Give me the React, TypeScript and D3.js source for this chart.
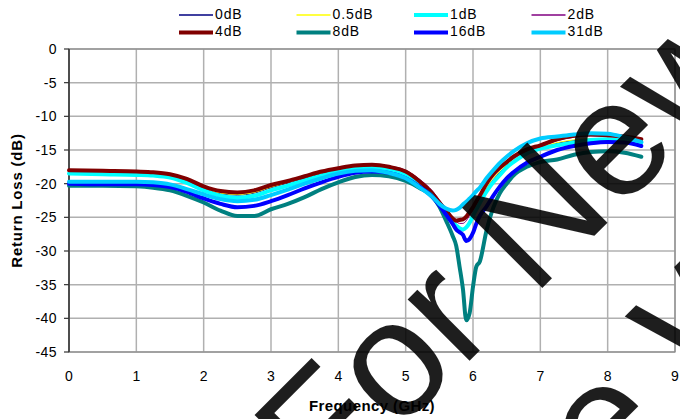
import React from "react";
import * as d3 from "d3";

// Frequency grid (GHz)
const FREQ = [0, 0.5, 1, 1.25, 1.5, 1.75, 2, 2.25, 2.5, 2.75, 3, 3.25, 3.5, 3.75, 4, 4.25, 4.5, 4.75, 5, 5.2, 5.4, 5.5, 5.6, 5.7, 5.75, 5.8, 5.85, 5.9, 5.95, 6.0, 6.05, 6.1, 6.2, 6.3, 6.4, 6.5, 6.6, 6.8, 7.0, 7.25, 7.5, 7.75, 8.0, 8.25, 8.5];

// Return loss (dB) per attenuation state
const RL_0DB = [-18.3, -18.4, -18.5, -18.6, -18.9, -19.6, -20.7, -21.5, -21.7, -21.4, -20.6, -19.9, -19.2, -18.5, -18.0, -17.6, -17.4, -17.7, -18.4, -19.8, -21.6, -22.9, -24.2, -25.6, -26.3, -26.8, -27.0, -26.6, -25.7, -24.7, -23.6, -22.7, -20.8, -19.4, -18.3, -17.3, -16.6, -15.4, -14.7, -14.0, -13.6, -13.4, -13.4, -13.5, -13.9];
const RL_05DB = [-18.2, -18.3, -18.4, -18.5, -18.8, -19.5, -20.6, -21.4, -21.6, -21.3, -20.5, -19.8, -19.1, -18.4, -17.9, -17.5, -17.3, -17.6, -18.3, -19.7, -21.5, -22.8, -24.1, -25.4, -26.1, -26.6, -26.8, -26.4, -25.5, -24.5, -23.4, -22.5, -20.6, -19.2, -18.1, -17.1, -16.4, -15.2, -14.6, -13.9, -13.5, -13.3, -13.3, -13.4, -13.8];
const RL_1DB = [-18.5, -18.6, -18.7, -18.8, -19.1, -19.9, -21.0, -21.8, -22.1, -21.8, -21.0, -20.3, -19.5, -18.8, -18.2, -17.8, -17.7, -18.0, -18.8, -20.2, -22.0, -23.2, -24.3, -25.6, -26.2, -26.6, -26.8, -26.5, -25.8, -24.8, -23.8, -22.9, -21.2, -19.8, -18.7, -17.6, -16.8, -15.5, -14.8, -14.3, -13.9, -13.5, -13.4, -13.5, -13.9];
const RL_2DB = [-18.1, -18.2, -18.3, -18.4, -18.7, -19.4, -20.5, -21.2, -21.4, -21.1, -20.3, -19.7, -19.0, -18.3, -17.8, -17.4, -17.2, -17.4, -18.0, -19.3, -21.1, -22.4, -23.7, -25.0, -25.6, -25.9, -25.9, -25.5, -24.7, -23.9, -23.0, -22.1, -20.3, -18.9, -17.9, -17.0, -16.3, -15.1, -14.5, -13.6, -13.1, -12.9, -13.0, -13.2, -13.6];
const RL_4DB = [-18.0, -18.1, -18.2, -18.3, -18.6, -19.3, -20.4, -21.1, -21.3, -21.0, -20.2, -19.6, -18.9, -18.2, -17.7, -17.3, -17.2, -17.5, -18.2, -19.6, -21.5, -22.8, -24.0, -25.2, -25.5, -25.4, -25.3, -24.9, -24.2, -23.5, -22.6, -21.8, -20.0, -18.6, -17.6, -16.8, -16.0, -14.9, -14.3, -13.4, -12.9, -12.7, -12.8, -13.0, -13.4];
const RL_8DB = [-20.3, -20.3, -20.4, -20.6, -21.0, -21.8, -22.8, -24.0, -24.8, -24.8, -23.8, -23.0, -22.0, -20.8, -19.8, -19.0, -18.7, -18.9, -19.6, -20.6, -21.9, -23.4, -25.5, -27.8, -29.2, -32.3, -35.6, -40.3, -39.2, -35.3, -32.3, -31.6, -27.0, -23.6, -21.4, -20.0, -18.8, -17.5, -16.8, -16.4, -15.7, -15.3, -15.2, -15.4, -16.0];
const RL_16DB = [-20.0, -20.1, -20.1, -20.2, -20.5, -21.2, -22.2, -23.0, -23.5, -23.3, -22.6, -21.7, -20.7, -19.8, -19.0, -18.4, -18.2, -18.4, -19.2, -20.4, -22.0, -23.2, -24.6, -26.0, -26.8, -27.2, -27.6, -28.5, -28.2, -27.3, -25.9, -24.8, -23.4, -21.8, -20.4, -19.2, -18.3, -16.9, -16.0, -15.0, -14.4, -14.0, -13.8, -13.9, -14.4];
const RL_31DB = [-19.7, -19.7, -19.7, -19.8, -20.1, -20.8, -21.6, -22.3, -22.6, -22.4, -21.7, -20.9, -20.0, -19.2, -18.5, -18.1, -18.0, -18.4, -19.2, -20.5, -22.0, -23.0, -23.7, -24.0, -23.9, -23.6, -23.1, -22.7, -22.2, -21.7, -21.1, -20.6, -19.2, -18.0, -16.9, -16.0, -15.2, -14.0, -13.3, -13.0, -12.7, -12.5, -12.6, -13.1, -13.8];

const SERIES_NAMES = ["0dB", "0.5dB", "1dB", "2dB", "4dB", "8dB", "16dB", "31dB"];
const SERIES_VALUES = [RL_0DB, RL_05DB, RL_1DB, RL_2DB, RL_4DB, RL_8DB, RL_16DB, RL_31DB];
const SERIES_COLORS = ["#000080", "#ffff00", "#00ffff", "#800080", "#800000", "#008080", "#0000ff", "#00ccff"];
const SERIES_WIDTHS = [1, 1, 4, 1, 4, 4, 4, 4];

const X_TICKS = [0, 1, 2, 3, 4, 5, 6, 7, 8, 9];
const Y_TICKS = [0, -5, -10, -15, -20, -25, -30, -35, -40, -45];

const X_TITLE = "Frequency (GHz)";
const Y_TITLE = "Return Loss (dB)";
const WATERMARK_LINES = ["For New", "Use W"];

export default function App() {
  const W = 680;
  const H = 419;
  const left = 69, right = 675, top = 49, bottom = 352;
  const x = d3.scaleLinear().domain([0, 9]).range([left, right]);
  const y = d3.scaleLinear().domain([0, -45]).range([top, bottom]);
  const line = d3
    .line<number>()
    .x((_, i) => x(FREQ[i]))
    .y((d) => y(d))
    .curve(d3.curveMonotoneX);

  const font = "'Liberation Sans', Arial, sans-serif";
  const legendCols = [179, 296.5, 414, 531.5];
  const legendRows = [15, 32.5];

  return (
    <svg
      width={W}
      height={H}
      style={{ position: "fixed", left: 0, top: 0, background: "#fff" }}
      fontFamily={font}
    >
      <rect x={0} y={0} width={W} height={H} fill="#fff" />
      {/* legend */}
      {SERIES_NAMES.map((name, i) => {
        const cx = legendCols[i % 4];
        const cy = legendRows[Math.floor(i / 4)];
        return (
          <g key={name}>
            <line x1={cx} x2={cx + 34} y1={cy} y2={cy} stroke={SERIES_COLORS[i]} strokeWidth={SERIES_WIDTHS[i] > 2 ? 4 : 1.5} />
            <text x={cx + 36} y={cy - 1} dy="0.35em" fontSize={14} letterSpacing={0.9} fill="#000">{name}</text>
          </g>
        );
      })}
      {/* grid */}
      {Y_TICKS.map((t) => (
        <line key={"gy" + t} x1={left} x2={right} y1={y(t)} y2={y(t)} stroke="#b0b0b0" strokeWidth={1.5} />
      ))}
      {X_TICKS.map((t) => (
        <line key={"gx" + t} x1={x(t)} x2={x(t)} y1={top} y2={bottom} stroke="#b0b0b0" strokeWidth={1.5} />
      ))}
      <rect x={left} y={top} width={right - left} height={bottom - top} fill="none" stroke="#8a8a8a" strokeWidth={1.2} />
      {/* axes */}
      <line x1={left} x2={left} y1={top} y2={bottom} stroke="#333" strokeWidth={1.5} />
      {Y_TICKS.map((t) => (
        <line key={"ty" + t} x1={left - 5} x2={left} y1={y(t)} y2={y(t)} stroke="#333" strokeWidth={1.2} />
      ))}
      {Y_TICKS.map((t) => (
        <text key={"ly" + t} x={57} y={y(t)} dy="0.35em" textAnchor="end" fontSize={14} letterSpacing={0.4} fill="#000">{t}</text>
      ))}
      {X_TICKS.map((t) => (
        <text key={"lx" + t} x={x(t)} y={376} dy="0.35em" textAnchor="middle" fontSize={14} fill="#000">{t}</text>
      ))}
      <text x={(left + right) / 2} y={406} dy="0.35em" textAnchor="middle" fontSize={15} fontWeight="bold" letterSpacing={0.4} fill="#000">{X_TITLE}</text>
      <text transform={`translate(17,${(top + bottom) / 2}) rotate(-90)`} textAnchor="middle" dy="0.35em" fontSize={15} fontWeight="bold" letterSpacing={0.8} fill="#000">{Y_TITLE}</text>
      {/* series */}
      <g fill="none" strokeLinejoin="round" strokeLinecap="round">
        {SERIES_VALUES.map((vals, i) => (
          <path key={SERIES_NAMES[i]} d={line(vals) || ""} stroke={SERIES_COLORS[i]} strokeWidth={SERIES_WIDTHS[i]} />
        ))}
      </g>
      {/* watermark */}
      <g transform="rotate(-45)" fill="#000" opacity={0.88} fontSize={165} fontFamily={font}>
        <text x={-127} y={587}>{WATERMARK_LINES[0]}</text>
        <text x={-122} y={779}>{WATERMARK_LINES[1]}</text>
      </g>
    </svg>
  );
}
